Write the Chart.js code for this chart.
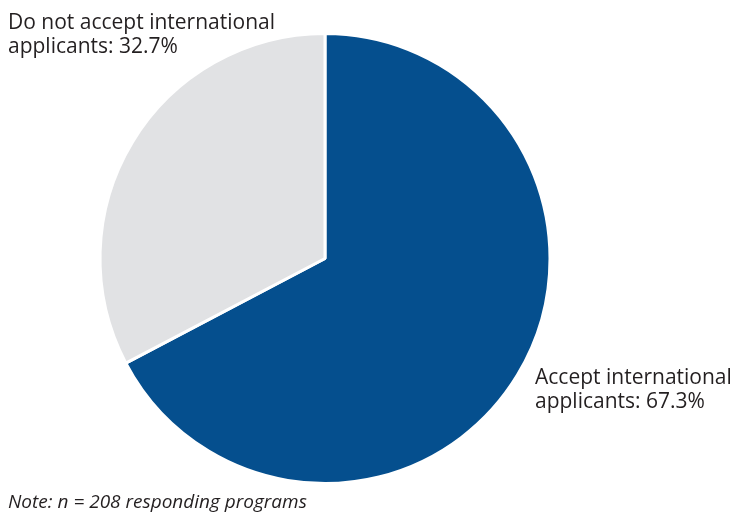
<!DOCTYPE html>
<html>
<head>
<meta charset="utf-8">
<script src="https://cdn.jsdelivr.net/npm/chart.js@4"></script>
<style>
  html, body { margin: 0; padding: 0; background: #fff; }
  #wrap { position: relative; width: 732px; height: 517px; }
</style>
</head>
<body>
<div id="wrap"><canvas id="myChart" width="732" height="517"></canvas></div>
<script>
var categories = ['Accept international applicants', 'Do not accept international applicants'];
var shares = [67.3, 32.7];
var sliceColors = ['#054f8e', '#e1e2e4'];
var note = 'Note: n = 208 responding programs';

// where each slice's two-line label starts (first baseline)
var labelSpots = [
  { x: 535, y: 384 },
  { x: 8, y: 29 }
];

var sliceLabels = {
  id: 'sliceLabels',
  afterDraw: function (chart) {
    var c = chart.ctx;
    c.save();
    c.fillStyle = '#231f20';
    c.font = '21px "Open Sans"';
    c.textBaseline = 'alphabetic';
    c.textAlign = 'left';
    categories.forEach(function (name, i) {
      var words = name.split(' ');
      var last = words.pop();
      var p = labelSpots[i];
      c.fillText(words.join(' '), p.x, p.y);
      c.fillText(last + ': ' + shares[i].toFixed(1) + '%', p.x, p.y + 24);
    });
    c.font = 'italic 19px "Open Sans"';
    c.fillText(note, 8, 508);
    c.restore();
  }
};

var ctx = document.getElementById('myChart').getContext('2d');
var myChart = new Chart(ctx, {
  type: 'pie',
  data: {
    labels: categories,
    datasets: [{
      data: shares,
      backgroundColor: sliceColors,
      borderColor: '#ffffff',
      borderWidth: 3
    }]
  },
  options: {
    responsive: false,
    animation: false,
    layout: { padding: { left: 98, right: 180, top: 32, bottom: 32 } },
    plugins: {
      legend: { display: false },
      tooltip: { enabled: false }
    }
  },
  plugins: [sliceLabels]
});
</script>
</body>
</html>
